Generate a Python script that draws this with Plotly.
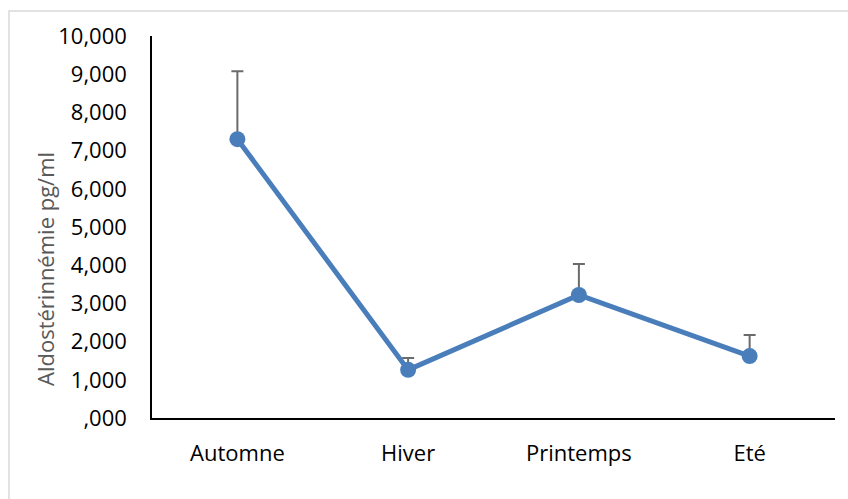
import plotly.graph_objects as go

# Seasonal aldosterone levels (mean with upper error bar)
seasons = ["Automne", "Hiver", "Printemps", "Eté"]
means = [7.30, 1.26, 3.22, 1.62]
err_plus = [1.78, 0.31, 0.81, 0.55]

tick_vals = [0, 1, 2, 3, 4, 5, 6, 7, 8, 9, 10]
tick_text = [",000", "1,000", "2,000", "3,000", "4,000", "5,000",
             "6,000", "7,000", "8,000", "9,000", "10,000"]

W, H = 848, 499
ML, MR, MT, MB = 152, 13, 36, 81
pw, ph = W - ML - MR, H - MT - MB


def px_x(x):
    return (x - ML) / pw


def px_y(y):
    return (H - MB - y) / ph


font_family = "Open Sans, Liberation Sans, sans-serif"

fig = go.Figure()
fig.add_trace(go.Scatter(
    x=seasons, y=means,
    mode="lines+markers",
    line=dict(color="#4a7ebb", width=5),
    marker=dict(color="#4a7ebb", size=16),
    error_y=dict(type="data", symmetric=False, array=err_plus,
                 arrayminus=[0] * len(means),
                 color="#6b6b6b", thickness=2, width=6),
    showlegend=False,
))

fig.update_layout(
    width=W, height=H,
    margin=dict(l=ML, r=MR, t=MT, b=MB),
    paper_bgcolor="white", plot_bgcolor="white",
    font=dict(family=font_family, size=22, color="black"),
    xaxis=dict(type="category", range=[-0.5, 3.5], showline=True,
               linecolor="black", linewidth=1.5, showgrid=False,
               ticks="", ticklabelstandoff=15, zeroline=False),
    yaxis=dict(range=[0, 10], tickvals=tick_vals, ticktext=tick_text,
               showline=True, linecolor="black", linewidth=1.5,
               showgrid=False, ticks="", ticklabelstandoff=19,
               zeroline=False),
    shapes=[dict(type="rect", xref="paper", yref="paper",
                 x0=px_x(9), x1=px_x(870), y0=px_y(520), y1=px_y(11),
                 line=dict(color="#d9d9d9", width=1.5), layer="below")],
    annotations=[dict(text="Aldostérinnémie pg/ml", textangle=-90,
                      xref="paper", yref="paper", x=px_x(45), y=px_y(269),
                      showarrow=False, xanchor="center", yanchor="middle",
                      font=dict(family=font_family, size=22, color="#595959"))],
)

fig.write_html("out.html")
